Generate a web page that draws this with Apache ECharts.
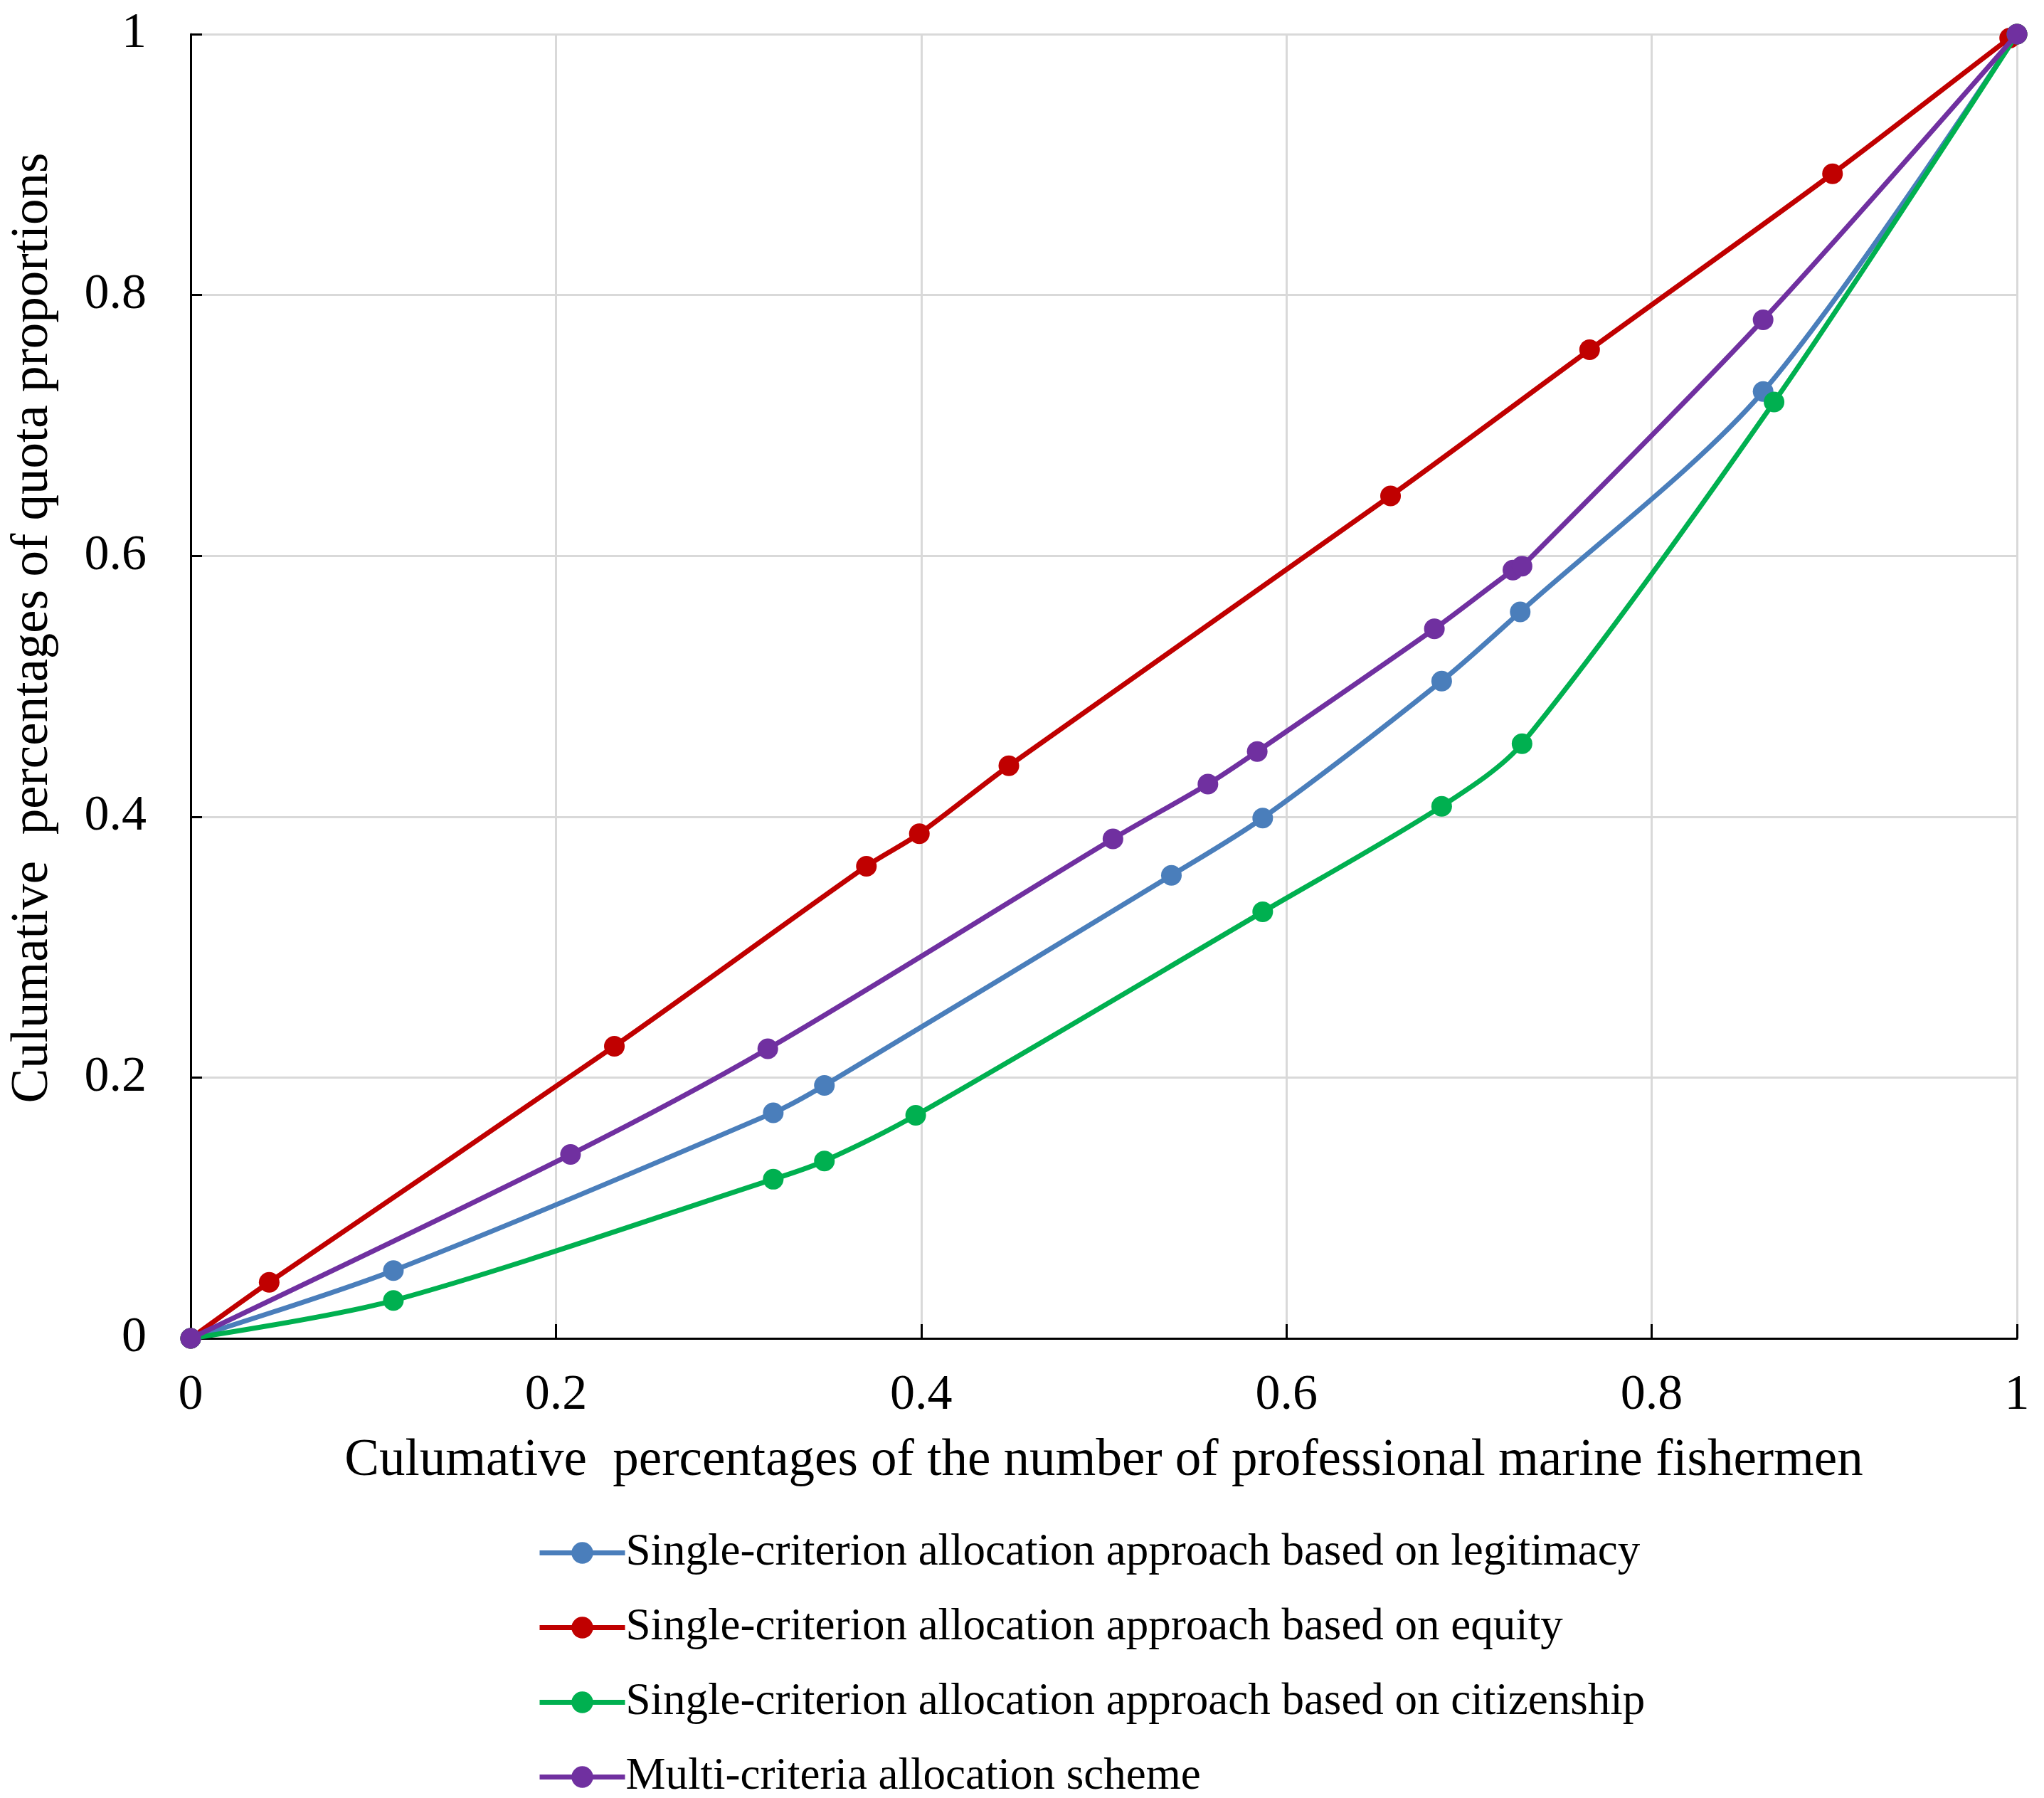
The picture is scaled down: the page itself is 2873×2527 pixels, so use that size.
<!DOCTYPE html>
<html>
<head>
<meta charset="utf-8">
<title>Lorenz curves of quota allocation</title>
<script src="https://cdn.jsdelivr.net/npm/echarts@6/dist/echarts.min.js"></script>
<style>
  html, body { margin: 0; padding: 0; background: #ffffff; }
  #chart { width: 2873px; height: 2527px; }
</style>
</head>
<body>
<div id="chart"></div>
<script>
// series names (legend order)
var seriesNames = [
  'Single-criterion allocation approach based on legitimacy',
  'Single-criterion allocation approach based on equity',
  'Single-criterion allocation approach based on citizenship',
  'Multi-criteria allocation scheme'
];

// [cumulative share of fishermen, cumulative share of quota]
var legitimacyPoints = [
  [0, 0], [0.111, 0.052], [0.319, 0.173], [0.347, 0.194], [0.537, 0.355],
  [0.587, 0.399], [0.685, 0.504], [0.728, 0.557], [0.861, 0.726], [1, 1]
];
var equityPoints = [
  [0, 0], [0.043, 0.043], [0.232, 0.224], [0.370, 0.362], [0.399, 0.387],
  [0.448, 0.439], [0.657, 0.646], [0.766, 0.758], [0.899, 0.893], [0.996, 0.997], [1, 1]
];
var citizenshipPoints = [
  [0, 0], [0.111, 0.029], [0.319, 0.122], [0.347, 0.136], [0.397, 0.171],
  [0.587, 0.327], [0.685, 0.408], [0.729, 0.456], [0.867, 0.718], [1, 1]
];
var multiPoints = [
  [0, 0], [0.208, 0.141], [0.316, 0.222], [0.505, 0.383], [0.557, 0.425],
  [0.584, 0.450], [0.681, 0.544], [0.724, 0.589], [0.729, 0.592], [0.861, 0.781], [1, 1]
];

var seriesColors = ['#4a7ebb', '#c00000', '#00b050', '#7030a0'];
var seriesData = [legitimacyPoints, equityPoints, citizenshipPoints, multiPoints];

var fontFamily = '"Liberation Serif", "Times New Roman", serif';

function buildSeries() {
  var list = [];
  for (var i = 0; i < seriesNames.length; i++) {
    list.push({
      name: seriesNames[i],
      type: 'line',
      data: seriesData[i],
      smooth: 0.3,
      symbol: 'circle',
      symbolSize: 29,
      showSymbol: true,
      lineStyle: { color: seriesColors[i], width: 7 },
      itemStyle: { color: seriesColors[i] },
      emphasis: { disabled: true },
      z: 2 + i
    });
  }
  return list;
}

var option = {
  animation: false,
  backgroundColor: '#ffffff',
  textStyle: { fontFamily: fontFamily, color: '#000' },
  grid: {
    left: 268,
    right: 38,
    top: 48,
    bottom: 646
  },
  legend: {
    orient: 'vertical',
    left: 750,
    top: 2146,
    height: 380,
    itemWidth: 120,
    itemHeight: 38,
    itemGap: 42,
    data: seriesNames,
    lineStyle: { width: 7 },
    textStyle: { fontFamily: fontFamily, fontSize: 63, color: '#000', padding: [0, 0, 0, -4] }
  },
  xAxis: {
    type: 'value',
    min: 0,
    max: 1,
    interval: 0.2,
    name: 'Culumative  percentages of the number of professional marine fishermen',
    nameLocation: 'middle',
    nameGap: 136,
    nameTextStyle: { fontFamily: fontFamily, fontSize: 73, color: '#000' },
    axisLine: { show: true, lineStyle: { color: '#000', width: 3 } },
    axisTick: { show: true, inside: true, length: 20, lineStyle: { color: '#000', width: 3 } },
    axisLabel: { fontFamily: fontFamily, fontSize: 70, color: '#000', margin: 46 },
    splitLine: { show: true, lineStyle: { color: '#d9d9d9', width: 3 } }
  },
  yAxis: {
    type: 'value',
    min: 0,
    max: 1,
    interval: 0.2,
    name: 'Culumative  percentages of quota proportions',
    nameLocation: 'middle',
    nameGap: 185,
    nameTextStyle: { fontFamily: fontFamily, fontSize: 73, color: '#000', padding: [0, 0, 0, 164] },
    axisLine: { show: true, lineStyle: { color: '#000', width: 3 } },
    axisTick: { show: true, inside: true, length: 16, lineStyle: { color: '#000', width: 3 } },
    axisLabel: { fontFamily: fontFamily, fontSize: 70, color: '#000', margin: 62 },
    splitLine: { show: true, lineStyle: { color: '#d9d9d9', width: 3 } }
  },
  series: buildSeries()
};

var myChart = echarts.init(document.getElementById('chart'));
myChart.setOption(option);
</script>
</body>
</html>
